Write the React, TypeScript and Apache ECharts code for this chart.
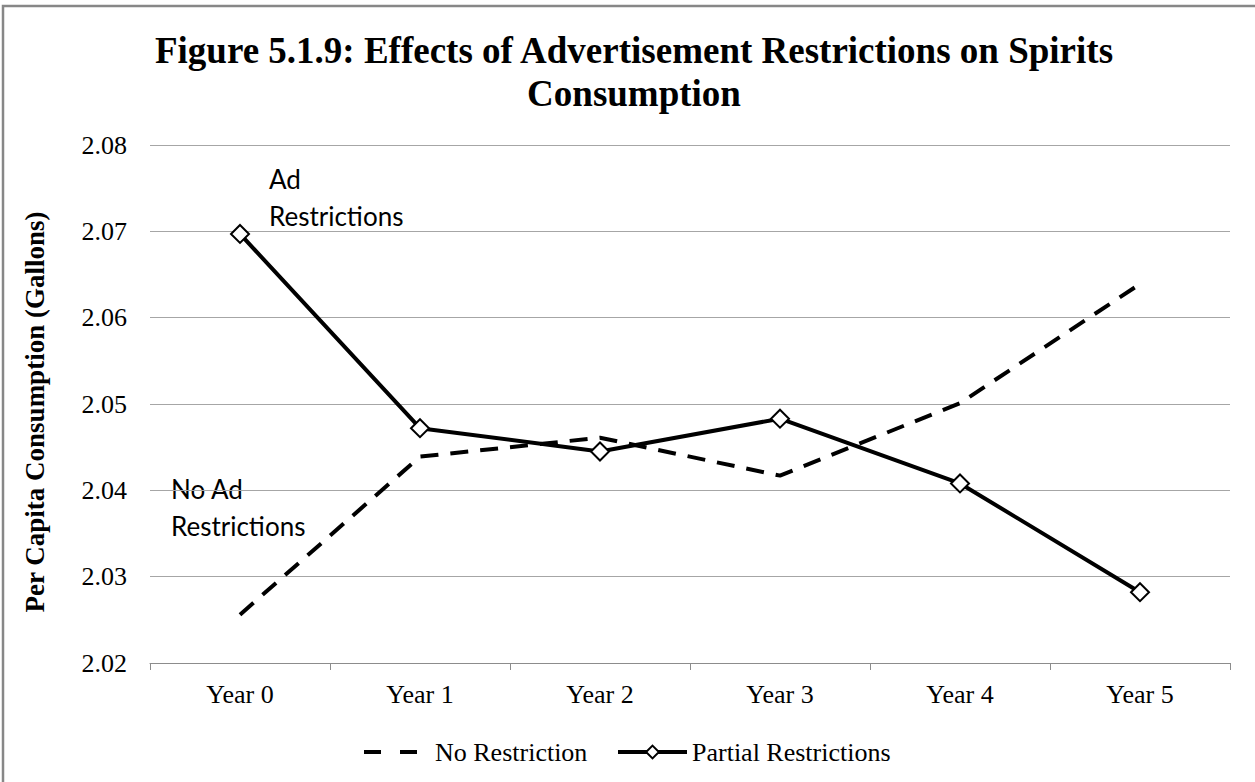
import React, { useEffect, useRef } from 'react';
import * as echarts from 'echarts';

const categories = ['Year 0', 'Year 1', 'Year 2', 'Year 3', 'Year 4', 'Year 5'];
const noRestriction = [2.0256, 2.0439, 2.0461, 2.0417, 2.0501, 2.0639];
const partialRestrictions = [2.0697, 2.0472, 2.0445, 2.0483, 2.0408, 2.0282];
const seriesNames = ['No Restriction', 'Partial Restrictions'];
const yMin = 2.02;
const yMax = 2.08;
const yInterval = 0.01;
const titleLines = ['Figure 5.1.9: Effects of Advertisement Restrictions on Spirits', 'Consumption'];
const yAxisName = 'Per Capita Consumption (Gallons)';
const annotationAd = ['Ad', 'Restrictions'];
const annotationNoAd = ['No Ad', 'Restrictions'];

const SERIF = '"Liberation Serif", "Times New Roman", serif';
const SANS = 'Lato, "Noto Sans", sans-serif';

export default function App() {
  const ref = useRef<HTMLDivElement>(null);
  useEffect(() => {
    document.body.style.margin = '0';
    document.body.style.overflow = 'hidden';
    const chart = echarts.init(ref.current!, null, { renderer: 'svg' });
    const textEl = (text: string, x: number, y: number, opts: any = {}) => ({
      type: 'text',
      x,
      y,
      silent: true,
      style: {
        text,
        fill: '#000',
        fontFamily: opts.fontFamily || SANS,
        fontSize: opts.fontSize || 26,
        fontWeight: opts.fontWeight || 'normal',
        textAlign: opts.align || 'left',
        textVerticalAlign: 'middle',
        verticalAlign: 'middle',
      },
    });
    chart.setOption({
      animation: false,
      backgroundColor: '#fff',
      grid: { left: 150, right: 25, top: 145, bottom: 119, containLabel: false },
      xAxis: {
        type: 'category',
        data: categories,
        boundaryGap: true,
        axisLine: { show: true, lineStyle: { color: '#8c8c8c', width: 1 } },
        axisTick: { show: true, length: 7, lineStyle: { color: '#8c8c8c' } },
        axisLabel: { fontFamily: SERIF, fontSize: 26, color: '#000', margin: 18 },
        splitLine: { show: false },
      },
      yAxis: {
        type: 'value',
        min: yMin,
        max: yMax,
        interval: yInterval,
        name: yAxisName,
        nameLocation: 'middle',
        nameRotate: 90,
        nameGap: 102,
        nameTextStyle: { fontFamily: SERIF, fontSize: 27, fontWeight: 'bold', color: '#000', padding: [0, 16, 0, 0] },
        axisLine: { show: false },
        axisTick: { show: false },
        axisLabel: {
          fontFamily: SERIF,
          fontSize: 26,
          color: '#000',
          margin: 23,
          formatter: (v: number) => v.toFixed(2),
        },
        splitLine: { show: true, lineStyle: { color: '#a6a6a6', width: 1 } },
      },
      legend: [
        {
          data: [
            {
              name: seriesNames[0],
              lineStyle: { type: [17, 19], width: 4 },
              itemStyle: { opacity: 0 },
            },
          ],
          left: 357,
          top: 734,
          itemWidth: 54,
          itemHeight: 16,
          selectedMode: false,
          textStyle: { fontFamily: SERIF, fontSize: 26, color: '#000', padding: [0, 0, 0, 12] },
        },
        {
          data: [{ name: seriesNames[1], lineStyle: { width: 4 } }],
          left: 611,
          top: 734,
          itemWidth: 69,
          itemHeight: 16,
          selectedMode: false,
          textStyle: { fontFamily: SERIF, fontSize: 26, color: '#000' },
        },
      ],
      series: [
        {
          name: seriesNames[0],
          type: 'line',
          data: noRestriction,
          symbol: 'none',
          lineStyle: { color: '#000', width: 4, type: [18, 12] },
          itemStyle: { color: '#000' },
          z: 2,
        },
        {
          name: seriesNames[1],
          type: 'line',
          data: partialRestrictions,
          symbol: 'diamond',
          symbolSize: 18,
          lineStyle: { color: '#000', width: 4 },
          itemStyle: { color: '#fff', borderColor: '#000', borderWidth: 2 },
          z: 3,
        },
      ],
      graphic: [
        {
          type: 'rect',
          silent: true,
          z: -10,
          shape: { x: 3, y: 6, width: 1300, height: 900 },
          style: { fill: 'none', stroke: '#878787', lineWidth: 2.5 },
        },
        textEl(titleLines[0], 634, 50, { fontFamily: SERIF, fontSize: 37, fontWeight: 'bold', align: 'center' }),
        textEl(titleLines[1], 634, 93, { fontFamily: SERIF, fontSize: 37, fontWeight: 'bold', align: 'center' }),
        textEl(annotationAd[0], 269, 179),
        textEl(annotationAd[1], 269, 216),
        textEl(annotationNoAd[0], 171, 489),
        textEl(annotationNoAd[1], 171, 526),
      ],
    });
    return () => chart.dispose();
  }, []);
  return <div ref={ref} style={{ width: 1255, height: 782 }} />;
}
